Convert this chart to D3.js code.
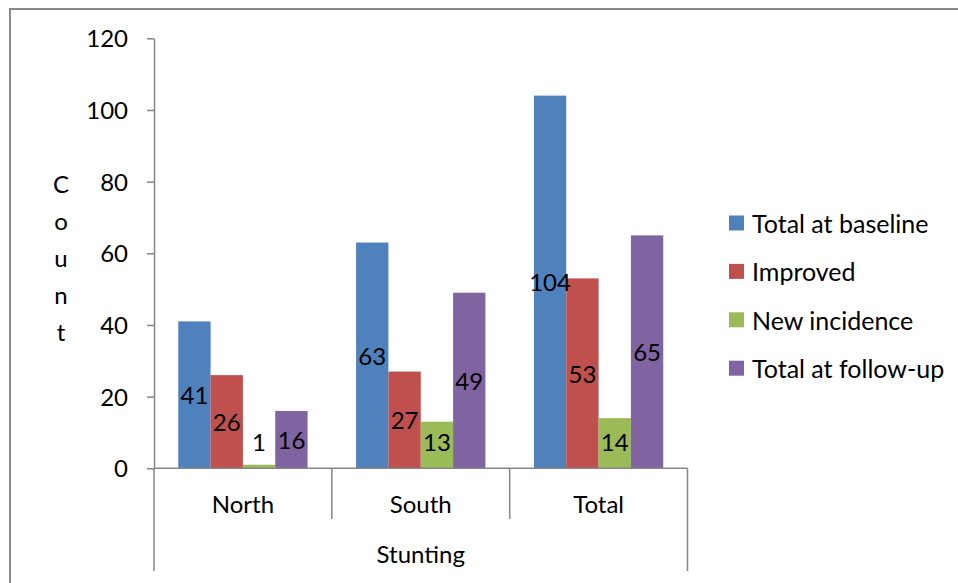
<!DOCTYPE html>
<html>
<head>
<meta charset="utf-8">
<script src="https://cdn.jsdelivr.net/npm/d3@7"></script>
<style>
  html, body { margin: 0; padding: 0; background: #fff; }
  svg { display: block; }
  text { font-family: Lato, "Open Sans", sans-serif; fill: #000; }
</style>
</head>
<body>
<div id="chart"></div>
<script>
// Stunting counts by region
const categories = ["North", "South", "Total"];
const seriesNames = ["Total at baseline", "Improved", "New incidence", "Total at follow-up"];
const totalAtBaseline = [41, 63, 104];
const improved = [26, 27, 53];
const newIncidence = [1, 13, 14];
const totalAtFollowUp = [16, 49, 65];
const yTicks = [0, 20, 40, 60, 80, 100, 120];
const colors = ["#4F81BD", "#C0504D", "#9BBB59", "#8064A2"];
const groupLabel = "Stunting";
const yTitle = "Count";

const seriesValues = [totalAtBaseline, improved, newIncidence, totalAtFollowUp];

const W = 958, H = 583;
const plot = { left: 154, right: 687.5, top: 38.3, bottom: 468.3 };
const axisColor = "#868686";
const fontSize = 24;

const svg = d3.select("#chart").append("svg")
  .attr("width", W).attr("height", H);

// outer frame
svg.append("rect")
  .attr("x", 10).attr("y", 9)
  .attr("width", W + 20).attr("height", H + 20)
  .attr("fill", "none").attr("stroke", "#898989").attr("stroke-width", 2);

const y = d3.scaleLinear().domain([0, 120]).range([plot.bottom, plot.top]);
const x0 = d3.scaleBand().domain(categories).range([plot.left, plot.right]).padding(0);
const bw = x0.bandwidth();
const barW = bw / 5.5;
const x1 = d3.scaleBand().domain(seriesNames)
  .range([barW * 0.75, barW * 0.75 + barW * 4]).padding(0);

// bars
const groups = svg.append("g").selectAll("g")
  .data(categories).join("g")
  .attr("transform", d => `translate(${x0(d)},0)`);

groups.each(function(cat, ci) {
  const g = d3.select(this);
  const rows = seriesNames.map((s, si) => ({ s, si, v: seriesValues[si][ci] }));
  g.selectAll("rect").data(rows).join("rect")
    .attr("x", d => x1(d.s))
    .attr("y", d => y(d.v))
    .attr("width", x1.bandwidth())
    .attr("height", d => y(0) - y(d.v))
    .attr("fill", d => colors[d.si]);
  g.selectAll("text.val").data(rows).join("text")
    .attr("class", "val")
    .attr("x", d => x1(d.s) + x1.bandwidth() / 2)
    .attr("y", d => Math.min((y(d.v) + y(0)) / 2, y(0) - 26.5))
    .attr("text-anchor", "middle")
    .attr("dominant-baseline", "central")
    .attr("font-size", fontSize)
    .text(d => d.v);
});

// y axis
const yAxis = svg.append("g")
  .attr("transform", `translate(${plot.left},0)`)
  .call(d3.axisLeft(y).tickValues(yTicks).tickSize(7).tickSizeOuter(0).tickPadding(19));
yAxis.select(".domain").attr("stroke", axisColor).attr("stroke-width", 1.5);
yAxis.selectAll(".tick line").attr("stroke", axisColor).attr("stroke-width", 1.5);
yAxis.selectAll(".tick text")
  .attr("font-size", fontSize)
  .attr("font-family", "Lato, sans-serif")
  .attr("fill", "#000")
  .attr("dy", "0.36em");

// category axis baseline
svg.append("line")
  .attr("x1", plot.left).attr("x2", plot.right)
  .attr("y1", y(0)).attr("y2", y(0))
  .attr("stroke", axisColor).attr("stroke-width", 1.5);

// category dividers
const bounds = categories.map(c => x0(c)).concat([x0(categories[categories.length - 1]) + bw]);
svg.append("g").selectAll("line").data(bounds).join("line")
  .attr("x1", d => d).attr("x2", d => d)
  .attr("y1", y(0))
  .attr("y2", (d, i) => (i === 0 || i === bounds.length - 1) ? 571 : 519)
  .attr("stroke", axisColor).attr("stroke-width", 1.5);

// category labels
svg.append("g").selectAll("text").data(categories).join("text")
  .attr("x", d => x0(d) + bw / 2)
  .attr("y", 503)
  .attr("text-anchor", "middle")
  .attr("dominant-baseline", "central")
  .attr("font-size", fontSize)
  .text(d => d);

// group label
svg.append("text")
  .attr("x", (plot.left + plot.right) / 2)
  .attr("y", 553)
  .attr("text-anchor", "middle")
  .attr("dominant-baseline", "central")
  .attr("font-size", fontSize)
  .text(groupLabel);

// stacked y title
svg.append("g").selectAll("text").data(yTitle.split("")).join("text")
  .attr("x", 61)
  .attr("y", (d, i) => 183 + i * 37)
  .attr("text-anchor", "middle")
  .attr("dominant-baseline", "central")
  .attr("font-size", fontSize)
  .text(d => d);

// legend
const legend = svg.append("g").selectAll("g").data(seriesNames).join("g")
  .attr("transform", (d, i) => `translate(729,${223 + i * 48.4})`);
legend.append("rect")
  .attr("x", 0).attr("y", -7.5)
  .attr("width", 15).attr("height", 15)
  .attr("fill", (d, i) => colors[i]);
legend.append("text")
  .attr("x", 23).attr("y", 0)
  .attr("dominant-baseline", "central")
  .attr("font-size", 25)
  .text(d => d);
</script>
</body>
</html>
